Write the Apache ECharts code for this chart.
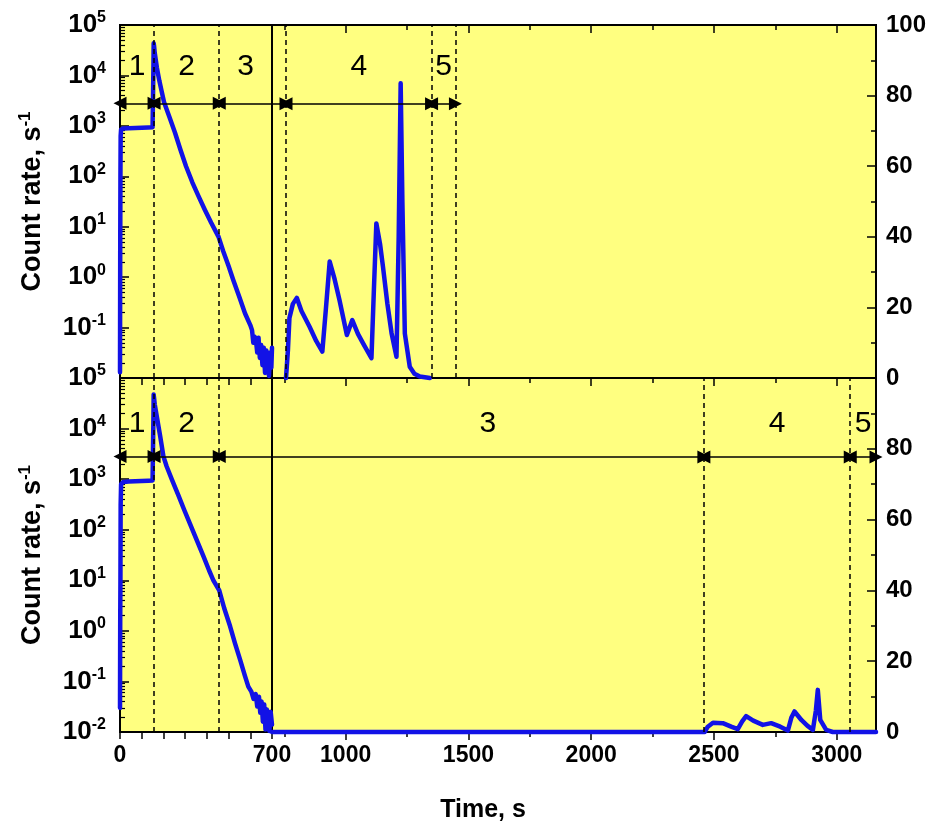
<!DOCTYPE html>
<html><head><meta charset="utf-8">
<script src="https://cdn.jsdelivr.net/npm/echarts@6/dist/echarts.min.js"></script>
<style>html,body{margin:0;padding:0;background:#fff}#c{width:928px;height:826px}</style>
</head><body><div id="c"></div>
<script>
// ---------------- data ----------------
const topLeftTime = [0, 1, 2, 3, 5, 15, 40, 70, 100, 130, 150, 153, 154, 155, 157, 160, 170, 181, 192, 203, 228, 253, 278, 304, 333, 362, 390, 420, 454, 475, 500, 522, 550, 576, 600, 608, 614, 620, 626, 632, 638, 644, 650, 656, 662, 668, 674, 680, 686, 692, 697, 700];
const topLeftRate = [0.013, 3.2, 100, 630, 850, 890, 900, 905, 915, 925, 935, 950, 15800, 43600, 38000, 28000, 14100, 7900, 4800, 2950, 1480, 740, 340, 158, 76, 40, 22, 12, 6.3, 3.3, 1.66, 0.87, 0.40, 0.19, 0.112, 0.089, 0.05, 0.066, 0.056, 0.032, 0.063, 0.025, 0.045, 0.018, 0.040, 0.0126, 0.035, 0.022, 0.011, 0.032, 0.016, 0.040];

const topRightTime = [757, 765, 771, 785, 801, 820, 853, 880, 905, 920, 935, 955, 975, 1005, 1027, 1050, 1071, 1105, 1115, 1125, 1140, 1152, 1170, 1187, 1207, 1216, 1224, 1231, 1241, 1261, 1280, 1302, 1343];
const topRightRate = [0, 8, 17, 21, 22.7, 19, 14.5, 10.5, 7.5, 20, 33, 28, 22, 12.2, 16.4, 12.5, 9.8, 5.6, 25, 43.8, 38, 31.5, 21, 12.7, 6, 40, 83.5, 50, 12.6, 3.2, 1.2, 0.4, 0];

const botLeftTime = [0, 1, 2, 3, 5, 15, 40, 70, 100, 130, 150, 153, 154, 155, 157, 160, 169, 185, 200, 215, 240, 269, 295, 322, 353, 385, 410, 430, 457, 480, 507, 530, 553, 575, 591, 605, 615, 625, 632, 640, 646, 652, 658, 664, 670, 676, 682, 688, 694, 700];
const botLeftRate = [0.03, 1.6, 10, 316, 800, 880, 900, 910, 920, 930, 940, 950, 18000, 47000, 39800, 30200, 17800, 7080, 2820, 1780, 955, 479, 251, 132, 63, 29.5, 15.8, 10, 6.3, 2.8, 1.23, 0.56, 0.27, 0.13, 0.079, 0.063, 0.045, 0.056, 0.032, 0.05, 0.024, 0.04, 0.016, 0.035, 0.0112, 0.028, 0.018, 0.0105, 0.025, 0.014];

const botRightTime = [700, 2462, 2475, 2496, 2536, 2570, 2597, 2615, 2631, 2660, 2699, 2733, 2770, 2801, 2815, 2828, 2856, 2880, 2903, 2915, 2923, 2933, 2957, 2984, 3160];
const botRightRate = [0, 0, 1.5, 2.6, 2.5, 1.5, 0.8, 3, 4.5, 3.2, 2, 2.5, 1.5, 0.4, 4, 5.8, 3.4, 1.8, 0.6, 6, 11.9, 3.4, 0.6, 0, 0];

// region boundaries (s) and names
const topBounds = [0, 157, 457, 757, 1350, 1447];
const botBounds = [0, 157, 457, 2459, 3055, 3160];
const regionNames = ['1', '2', '3', '4', '5'];

// axis ticks / labels
const xBreak = 700;
const xMax = 3160;
const leftXLabels = [0, 700];
const rightXMajor = [1000, 1500, 2000, 2500, 3000];
const rightXMinor = [750, 1250, 1750, 2250, 2750];

// annotation levels
const arrowLevelLog = 2800, arrowLevelLin = 77.7;
const labelLevelLogTop = 14800, labelLevelLinTop = 88.1;
const labelLevelLogBot = 12600, labelLevelLinBot = 87;

// ---------------- layout / style ----------------
const FONT = '"Liberation Sans", Arial, sans-serif';
const BLUE = '#1212e6';
const YELLOW = '#ffff80';
const L = 120, BX = 272, R = 876, T1 = 25, MID = 378, B2 = 732;
const pxL = (BX - L) / xBreak, pxR = (R - BX) / (xMax - xBreak);

const grids = [
  {left: L, top: T1, width: BX - L, height: MID - T1},
  {left: BX, top: T1, width: R - BX, height: MID - T1},
  {left: L, top: MID, width: BX - L, height: B2 - MID},
  {left: BX, top: MID, width: R - BX, height: B2 - MID}
].map(g => Object.assign({show: true, backgroundColor: YELLOW, borderColor: '#000', borderWidth: 2, containLabel: false, outerBoundsMode: 'none'}, g));

const tickLS = {color: '#000', width: 1.5};
const axLine = {show: true, onZero: false, lineStyle: {color: '#000', width: 2}};
function xA(gridIndex, min, max, extra) {
  return Object.assign({type: 'value', gridIndex, min, max, position: 'bottom', axisLine: axLine,
    splitLine: {show: false}, axisLabel: {show: false},
    axisTick: {show: true, inside: false, length: 7, lineStyle: tickLS}}, extra);
}
const xLabelStyle = {show: true, fontSize: 23, fontWeight: 'bold', fontFamily: FONT, color: '#000', margin: 12, formatter: v => String(v)};

const xAxes = [
  xA(0, 0, xBreak, {interval: 100}),
  xA(1, xBreak, xMax, {axisTick: {show: true, length: 8, lineStyle: tickLS, customValues: rightXMajor}}),
  xA(1, xBreak, xMax, {axisLine: {show: false}, axisTick: {show: true, length: 5, lineStyle: tickLS, customValues: rightXMinor}}),
  xA(1, xBreak, xMax, {position: 'top', axisTick: {show: true, inside: true, length: 8, lineStyle: tickLS, customValues: rightXMajor}}),
  xA(1, xBreak, xMax, {position: 'top', axisLine: {show: false}, axisTick: {show: true, inside: true, length: 5, lineStyle: tickLS, customValues: rightXMinor}}),
  xA(2, 0, xBreak, {interval: 100, axisLabel: Object.assign({customValues: leftXLabels}, xLabelStyle)}),
  xA(3, xBreak, xMax, {axisTick: {show: true, length: 8, lineStyle: tickLS, customValues: rightXMajor},
    axisLabel: Object.assign({customValues: rightXMajor}, xLabelStyle)}),
  xA(3, xBreak, xMax, {axisLine: {show: false}, axisTick: {show: true, length: 5, lineStyle: tickLS, customValues: rightXMinor}})
];

const logMinor = [];
for (let d = -2; d < 5; d++) for (let k = 2; k <= 9; k++) logMinor.push(+(k * Math.pow(10, d)).toPrecision(3));

const logRich = {
  b: {fontSize: 26, fontWeight: 'bold', fontFamily: FONT, color: '#000', lineHeight: 30, verticalAlign: 'middle'},
  s: {fontSize: 16, fontWeight: 'bold', fontFamily: FONT, color: '#000', lineHeight: 17, verticalAlign: 'top'}
};
function logAxis(gridIndex, showMin, showMax) {
  return {type: 'log', logBase: 10, gridIndex, min: 0.01, max: 1e5, position: 'left',
    axisLine: axLine, splitLine: {show: false},
    axisTick: {show: true, inside: true, length: 9, lineStyle: tickLS},
    axisLabel: {show: true, margin: 14, showMinLabel: showMin, showMaxLabel: showMax,
      formatter: v => '{b|10}{s|' + Math.round(Math.log10(v)) + '}', rich: logRich}};
}
function logMinorAxis(gridIndex) {
  return {type: 'log', logBase: 10, gridIndex, min: 0.01, max: 1e5, position: 'left',
    axisLine: {show: false}, splitLine: {show: false}, axisLabel: {show: false},
    axisTick: {show: true, inside: true, length: 5, lineStyle: {color: '#000', width: 1.2}, customValues: logMinor}};
}
function linAxis(gridIndex, showMax) {
  return {type: 'value', gridIndex, min: 0, max: 100, interval: 20, position: 'right',
    axisLine: axLine, splitLine: {show: false},
    axisTick: {show: true, inside: true, length: 9, lineStyle: tickLS},
    minorTick: {show: true, splitNumber: 2, length: 5, lineStyle: tickLS},
    axisLabel: {show: true, margin: 10, showMaxLabel: showMax, fontSize: 24, fontWeight: 'bold', fontFamily: FONT, color: '#000'}};
}
const yAxes = [logAxis(0, false, true), logMinorAxis(0), linAxis(1, true), logAxis(2, true, true), logMinorAxis(2), linAxis(3, false)];

// ---------------- annotations from region boundaries ----------------
const dashLS = {color: '#000', type: [5, 4], width: 1.5};
const ARW = 13;
function end(coord, on) { return {coord, symbol: on ? 'triangle' : 'none', symbolSize: ARW}; }
function buildMarks(bounds, labLog, labLin) {
  const left = {lines: [], points: []}, right = {lines: [], points: []};
  bounds.slice(1).forEach(v => {
    if (v >= xMax || v === xBreak) return;
    (v < xBreak ? left : right).lines.push({xAxis: v, symbol: 'none', lineStyle: dashLS});
  });
  for (let i = 0; i < bounds.length - 1; i++) {
    const a = bounds[i], b = bounds[i + 1];
    let wl = 0, wr = 0;
    if (a < xBreak) {
      const e = Math.min(b, xBreak); wl = (e - a) * pxL;
      left.lines.push([end([a, arrowLevelLog], true), end([e, arrowLevelLog], b <= xBreak)]);
    }
    if (b > xBreak) {
      const s = Math.max(a, xBreak); wr = (b - s) * pxR;
      right.lines.push([end([s, arrowLevelLin], a >= xBreak), end([b, arrowLevelLin], true)]);
    }
    if (wl >= wr) left.points.push({coord: [(a + Math.min(b, xBreak)) / 2, labLog], label: {formatter: regionNames[i]}});
    else right.points.push({coord: [(Math.max(a, xBreak) + b) / 2, labLin], label: {formatter: regionNames[i]}});
  }
  return {left, right};
}
const topMarks = buildMarks(topBounds, labelLevelLogTop, labelLevelLinTop);
const botMarks = buildMarks(botBounds, labelLevelLogBot, labelLevelLinBot);

function mkSeries(times, rates, xi, yi, marks) {
  return {type: 'line', xAxisIndex: xi, yAxisIndex: yi, data: times.map((t, i) => [t, rates[i]]),
    showSymbol: false, clip: false, silent: true, z: 3,
    lineStyle: {color: BLUE, width: 4.5, join: 'round', cap: 'round'}, itemStyle: {color: BLUE},
    markLine: {silent: true, symbol: ['none', 'none'], symbolSize: ARW, animation: false,
      label: {show: false}, lineStyle: {color: '#000', type: 'solid', width: 1.5},
      itemStyle: {color: '#000'}, emphasis: {disabled: true}, data: marks.lines},
    markPoint: {silent: true, symbol: 'circle', symbolSize: 0, animation: false,
      label: {show: true, position: 'inside', fontSize: 30, fontFamily: FONT, color: '#000', fontWeight: 'normal'},
      data: marks.points}
  };
}

const titleRich = {
  a: {fontSize: 27, fontWeight: 'bold', fontFamily: FONT, fill: '#000', lineHeight: 32, verticalAlign: 'middle'},
  b: {fontSize: 17, fontWeight: 'bold', fontFamily: FONT, fill: '#000', lineHeight: 18, verticalAlign: 'top'}
};
const option = {
  animation: false,
  textStyle: {fontFamily: FONT},
  grid: grids,
  xAxis: xAxes,
  yAxis: yAxes,
  series: [
    mkSeries(topLeftTime, topLeftRate, 0, 0, topMarks.left),
    mkSeries(topRightTime, topRightRate, 1, 2, topMarks.right),
    mkSeries(botLeftTime, botLeftRate, 5, 3, botMarks.left),
    mkSeries(botRightTime, botRightRate, 6, 5, botMarks.right)
  ],
  graphic: [
    {type: 'text', x: 33, y: (T1 + MID) / 2, rotation: Math.PI / 2,
      style: {text: '{a|Count rate, s}{b|-1}', align: 'center', verticalAlign: 'middle', rich: titleRich}},
    {type: 'text', x: 33, y: (MID + B2) / 2, rotation: Math.PI / 2,
      style: {text: '{a|Count rate, s}{b|-1}', align: 'center', verticalAlign: 'middle', rich: titleRich}},
    {type: 'text', x: 483, y: 810,
      style: {text: 'Time, s', align: 'center', verticalAlign: 'middle', fontSize: 25, fontWeight: 'bold', fontFamily: FONT, fill: '#000'}}
  ]
};
const chart = echarts.init(document.getElementById('c'));
chart.setOption(option);
</script>
</body></html>
